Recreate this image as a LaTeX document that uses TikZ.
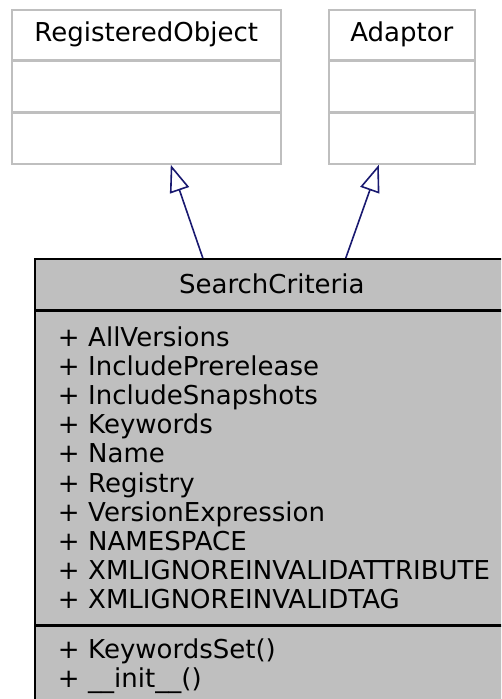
\documentclass[tikz,border=0pt]{standalone}
\usepackage{fontspec}
\setmainfont{DejaVu Sans}
\usetikzlibrary{arrows.meta, positioning, calc}
\definecolor{edgeblue}{HTML}{191970}
\definecolor{boxgray}{HTML}{BFBFBF}

\begin{document}
\begin{tikzpicture}[
        x=1pt, y=-1pt,
        cls/.style={draw=boxgray, line width=1.6pt, rectangle, inner sep=0pt, font=\fontsize{26}{29.2}\selectfont},
        cur/.style={cls, draw=black, fill=boxgray},
        members/.style={align=left, text width=428pt, inner xsep=23pt},
        inherit/.style={draw=edgeblue, line width=1.6pt, -{Triangle[open, length=27pt, width=20pt]}}
    ]
        \useasboundingbox (0,0) rectangle (501,699);
        \clip (0,0) rectangle (501,699);

        % Base classes
        \node[cls, minimum width=269pt, minimum height=50pt, anchor=north west] (reg) at (11,9) {RegisteredObject};
        \node[cls, minimum width=269pt, minimum height=50pt, below=0pt of reg] (regattr) {};
        \node[cls, minimum width=269pt, minimum height=51pt, below=0pt of regattr] (regmeth) {};

        \node[cls, minimum width=146pt, minimum height=50pt, anchor=north west] (ada) at (328,9) {Adaptor};
        \node[cls, minimum width=146pt, minimum height=50pt, below=0pt of ada] (adaattr) {};
        \node[cls, minimum width=146pt, minimum height=51pt, below=0pt of adaattr] (adameth) {};

        % Derived class
        \node[cur, minimum width=474pt, minimum height=51pt, anchor=north west] (sc) at (34,258) {SearchCriteria};
        \node[cur, members, minimum height=313pt, below=0pt of sc] (scattr) {%
            + AllVersions\\
            + IncludePrerelease\\
            + IncludeSnapshots\\
            + Keywords\\
            + Name\\
            + Registry\\
            + VersionExpression\\
            + NAMESPACE\\
            \mbox{+ XMLIGNOREINVALIDATTRIBUTE}\\
            + XMLIGNOREINVALIDTAG};
        \node[cur, members, minimum height=80pt, below=0pt of scattr] (scmeth) {%
            + KeywordsSet()\\
            + \_\_init\_\_()};

        % Inheritance
        \draw[inherit] ($(sc.north)+(-69,0)$) -- ($(regmeth.south)+(24.5,0)$);
        \draw[inherit] ($(sc.north)+(74,0)$) -- ($(adameth.south)+(-23,0)$);

    \end{tikzpicture}
\end{document}
